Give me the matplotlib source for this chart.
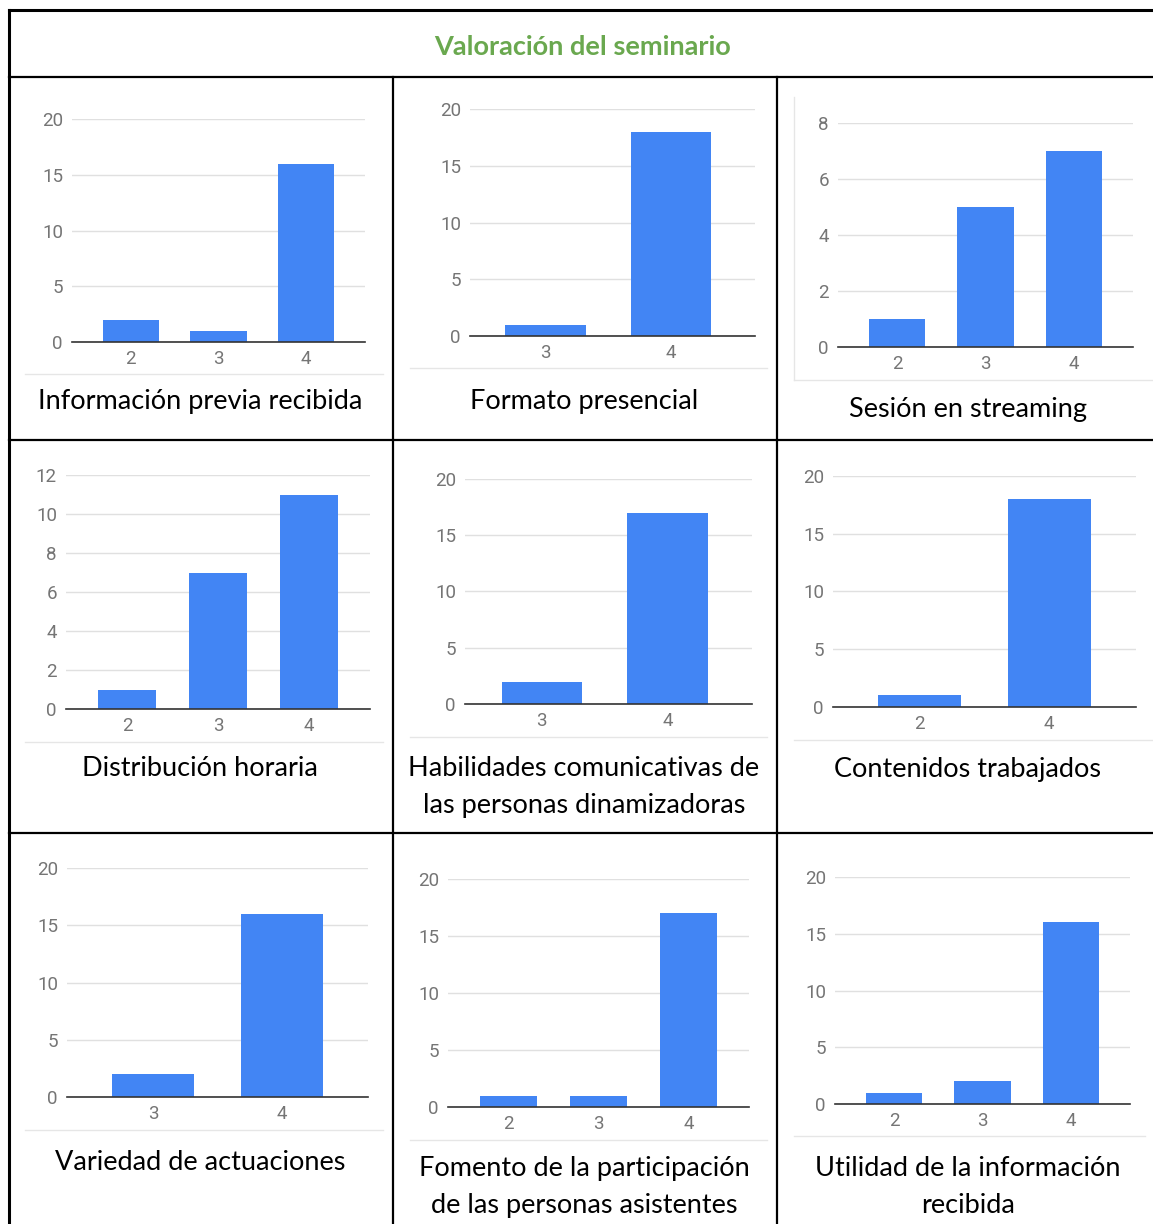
import matplotlib
matplotlib.use("Agg")
import matplotlib.pyplot as plt
from matplotlib.lines import Line2D

# chart data
titles = [
    "Información previa recibida",
    "Formato presencial",
    "Sesión en streaming",
    "Distribución horaria",
    "Habilidades comunicativas de\nlas personas dinamizadoras",
    "Contenidos trabajados",
    "Variedad de actuaciones",
    "Fomento de la participación\nde las personas asistentes",
    "Utilidad de la información\nrecibida",
]
categories = [
    ["2", "3", "4"],
    ["3", "4"],
    ["2", "3", "4"],
    ["2", "3", "4"],
    ["3", "4"],
    ["2", "4"],
    ["3", "4"],
    ["2", "3", "4"],
    ["2", "3", "4"],
]
values = [
    [2, 1, 16],
    [1, 18],
    [1, 5, 7],
    [1, 7, 11],
    [2, 17],
    [1, 18],
    [2, 16],
    [1, 1, 17],
    [1, 2, 16],
]
y_max = [20, 20, 8, 12, 20, 20, 20, 20, 20]
y_step = [5, 5, 2, 2, 5, 5, 5, 5, 5]
main_title = "Valoración del seminario"

# layout in pixels
W, H = 1153, 1224
# plot areas: (left, right, top gridline, baseline)
plot_px = [
    (72, 365, 119, 342),
    (470, 755, 109, 336),
    (838, 1133, 123, 347),
    (66, 370, 475, 709),
    (465, 752, 479, 704),
    (833, 1136, 476, 707),
    (67, 368, 868, 1097),
    (448, 749, 879, 1107),
    (835, 1130, 877, 1104),
]
pad_left = [0.67, 0.6, 0.67, 0.67, 0.61, 0.67, 0.67, 0.67, 0.67]
caption_px = [
    (200, 402), (584, 402), (968, 410),
    (200, 769), (584, 787), (968, 769),
    (200, 1163), (584, 1187), (968, 1187),
]
# light separator under each chart: (x0, x1, y)
sep_px = [
    (25, 383, 374), (410, 767, 368), (794, 1153, 380),
    (25, 383, 742), (410, 767, 737), (794, 1153, 740),
    (25, 383, 1130), (410, 767, 1140), (794, 1145, 1136),
]

BAR = "#4285f4"
GRID = "#e0e0e0"
TICK = "#757575"
GREEN = "#6aa84f"


def fx(x):
    return x / W


def fy(y):
    return 1 - y / H


fig = plt.figure(figsize=(W / 100, H / 100), dpi=100)
fig.patch.set_facecolor("white")

for i in range(9):
    x0, x1, yt, yb = plot_px[i]
    ax = fig.add_axes([fx(x0), fy(yb), (x1 - x0) / W, (yb - yt) / H])
    n = len(categories[i])
    ax.bar(range(n), values[i], width=0.64, color=BAR, zorder=3)
    ax.set_xlim(-pad_left[i], n - 1 + 0.67)
    ax.set_ylim(0, y_max[i])
    ticks = list(range(0, y_max[i] + 1, y_step[i]))
    ax.set_yticks(ticks)
    ax.set_xticks(range(n))
    ax.set_xticklabels(categories[i])
    for s in ax.spines.values():
        s.set_visible(False)
    ax.yaxis.grid(True, color=GRID, linewidth=1.0, zorder=0)
    ax.axhline(0, color="#333333", linewidth=1.2, zorder=4, clip_on=False)
    ax.tick_params(axis="both", length=0, labelsize=13.5, labelcolor=TICK)
    ax.tick_params(axis="x", pad=6)
    ax.tick_params(axis="y", pad=6.5)
    for lab in ax.get_xticklabels() + ax.get_yticklabels():
        lab.set_fontfamily("Roboto")
    ax.set_facecolor("none")

    cx, cy = caption_px[i]
    fig.text(fx(cx), fy(cy), titles[i], ha="center", va="center",
             fontsize=19.5, family="Lato", color="black", linespacing=1.6)

    sx0, sx1, sy = sep_px[i]
    fig.add_artist(Line2D([fx(sx0), fx(sx1)], [fy(sy), fy(sy)],
                          color="#e6e6e6", linewidth=1.0))

# card border of the streaming chart
fig.add_artist(Line2D([fx(794), fx(794)], [fy(97), fy(380)],
                      color="#e6e6e6", linewidth=1.0))

# table grid
fig.text(fx(583), fy(47), main_title, ha="center", va="center",
         fontsize=19.5, fontweight="bold", family="Lato", color=GREEN)

for y in [10, 77, 440, 833]:
    lw = 2.2 if y == 10 else 1.6
    fig.add_artist(Line2D([fx(9), 1], [fy(y), fy(y)], color="black", linewidth=lw))
fig.add_artist(Line2D([fx(9), fx(9)], [fy(10), 0], color="black", linewidth=2.2))
for x in [393, 777]:
    fig.add_artist(Line2D([fx(x), fx(x)], [fy(77), 0], color="black", linewidth=1.6))

fig.savefig("out.png", dpi=100, facecolor="white")
